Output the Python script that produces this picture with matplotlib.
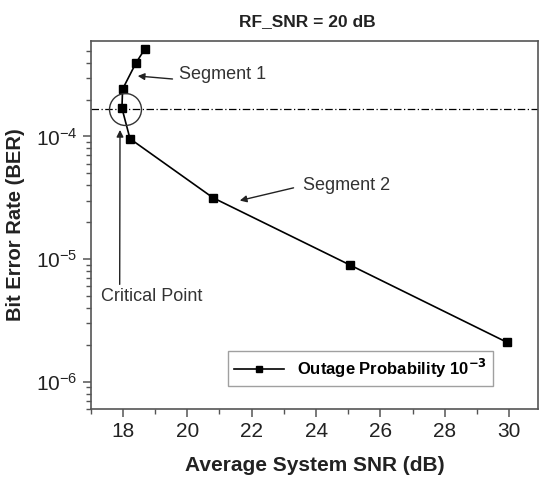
import matplotlib
matplotlib.use("Agg")
import matplotlib.pyplot as plt
import numpy as np

plt.rcParams['font.family'] = ['Liberation Sans', 'DejaVu Sans']

# data
snr = [18.68, 18.40, 17.99, 17.97, 18.22, 20.80, 25.06, 29.94]
ber = [5.16e-4, 3.95e-4, 2.43e-4, 1.70e-4, 9.58e-5, 3.16e-5, 8.93e-6, 2.09e-6]
threshold = 1.68e-4
critical = (18.05, 1.68e-4)

fig = plt.figure(figsize=(5.39, 4.78), dpi=100)
ax = fig.add_axes([0.1683, 0.1444, 0.8297, 0.7698])

ax.plot(snr, ber, color='black', lw=1.2, marker='s', ms=5.3, mfc='black', mec='black',
        label=r'Outage Probability 10$^{\mathbf{-3}}$')
ax.axhline(threshold, color='black', lw=0.9, ls=(0, (6, 2, 1, 2)))
ax.plot([critical[0]], [critical[1]], marker='o', ms=23, mfc='none', mec='#333333', mew=1.0)

ax.set_yscale('log')
ax.set_xlim(17, 30.89)
ax.set_ylim(10**-6.222, 10**-3.222)
ax.set_xticks(np.arange(18, 31, 2))
ax.set_xticks(np.arange(17, 31, 1), minor=True)

for s in ax.spines.values():
    s.set_color('#555555')
    s.set_linewidth(1.2)
ax.tick_params(which='both', direction='out', color='#555555', top=False, right=False)
ax.tick_params(which='major', length=6, width=1.1, labelsize=15, labelcolor='#222222')
ax.tick_params(which='minor', length=3.5, width=1.0)

ax.set_xlabel('Average System SNR (dB)', fontsize=15, fontweight='bold', color='#222222', labelpad=11)
ax.set_ylabel('Bit Error Rate (BER)', fontsize=14.5, fontweight='bold', color='#222222', labelpad=8)
fig.text(0.571, 0.954, 'RF_SNR = 20 dB', fontsize=12.5, fontweight='bold', ha='center', va='center',
         color='#222222')

arrow = dict(arrowstyle='-|>', color='#222222', lw=1.0, mutation_scale=10, shrinkA=0, shrinkB=0)
ax.annotate('', xy=(18.46, 3.11e-4), xytext=(19.54, 2.94e-4), arrowprops=arrow)
ax.text(19.73, 3.18e-4, 'Segment 1', fontsize=13, va='center', ha='left', color='#333333')
ax.annotate('', xy=(21.63, 3.0e-5), xytext=(23.30, 3.81e-5), arrowprops=arrow)
ax.text(23.58, 4.0e-5, 'Segment 2', fontsize=13, va='center', ha='left', color='#333333')
ax.annotate('', xy=(17.91, 1.13e-4), xytext=(17.90, 6.22e-6), arrowprops=arrow)
ax.text(17.31, 4.98e-6, 'Critical Point', fontsize=13, va='center', ha='left', color='#333333')

leg = ax.legend(loc='lower right', bbox_to_anchor=(0.899, 0.0625), borderaxespad=0,
                fancybox=False, edgecolor='#888888', handlelength=3.0, markerscale=0.9,
                prop={'size': 12, 'weight': 'bold'}, borderpad=0.35)
leg.get_frame().set_linewidth(1.0)

fig.savefig('out.png', dpi=100)
